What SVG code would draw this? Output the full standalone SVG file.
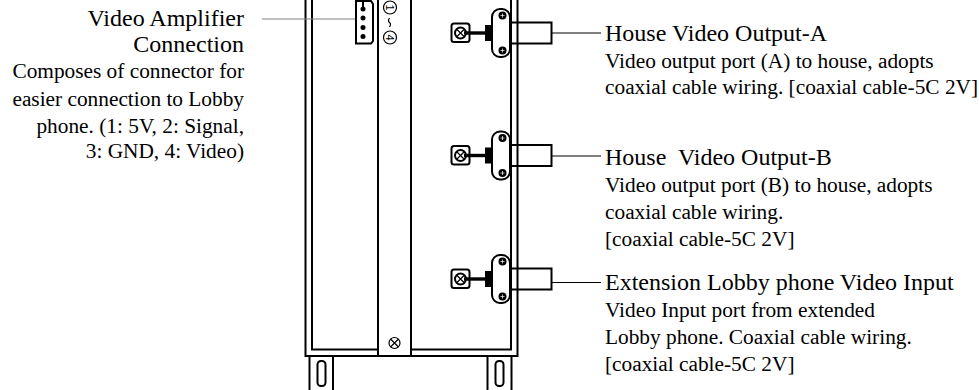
<svg xmlns="http://www.w3.org/2000/svg" width="979" height="390" viewBox="0 0 979 390">
<style>
.l{fill:none;stroke:#000;stroke-width:2}
.w{fill:#fff;stroke:#000;stroke-width:2}
.t{font-family:"Liberation Serif","Times New Roman",serif;font-size:24px;fill:#000}
.s{font-family:"Liberation Serif","Times New Roman",serif;font-size:21.33px;fill:#000}
.d{font-family:"Liberation Sans",Arial,sans-serif;font-size:11px;text-anchor:middle;fill:#000}
.e{text-anchor:end}
.c{fill:none;stroke:#000;stroke-width:1.200}
</style>
<defs>
<g id="term">
<rect x="451.500" y="-9.500" width="18" height="18.500" rx="2.500" class="l"/>
<circle cx="460.500" cy="0" r="5.500" fill="#fff" stroke="#000" stroke-width="2"/>
<path d="M457 -3.500L464 3.500M464 -3.500L457 3.500" stroke="#000" stroke-width="1.200"/>
<rect x="464" y="-1.700" width="22" height="3.400" fill="#000"/>
<rect x="485" y="-8" width="7.500" height="16" fill="#000"/>
<rect x="492" y="-24" width="18" height="48" rx="8" class="w"/>
<circle cx="502.500" cy="-17.500" r="4" fill="#000"/><circle cx="502.500" cy="17.500" r="4" fill="#000"/>
<path d="M500.500 -17.500h4M502.500 -19.500v4M500.500 17.500h4M502.500 15.500v4" stroke="#fff" stroke-width=".7"/>
<path d="M511 -10.500H551.500V10.500H511" class="l"/>
</g>
</defs>
<g id="enclosure">
<path d="M305.500 0V356H517.500V0" class="l"/>
<path d="M312 0V349.500H511V0" class="l"/>
<rect x="378" y="-2" width="33" height="358" class="w"/>
<path d="M309.500 357V390M333 357V390M487.500 357V390M511.500 357V390" class="l"/>
<rect x="317.500" y="361" width="8" height="25" rx="3.500" class="l"/>
<rect x="495.500" y="361" width="8" height="25" rx="3.500" class="l"/>
<circle cx="394.500" cy="343" r="5.500" class="c"/>
<path d="M390.500 339L398.500 347M398.500 339L390.500 347" class="c"/>
</g>
<g id="amp-connector">
<path d="M356 1H371L373 4V41L371 43.500H356Z" class="w"/>
<path d="M363 0V9" stroke="#000" stroke-width="2"/>
<circle cx="363" cy="9" r="2.500"/><circle cx="363" cy="18" r="2.500"/><circle cx="363" cy="27.500" r="2.500"/><circle cx="363" cy="36.500" r="2.500"/>
<circle cx="390" cy="7.500" r="6.500" class="c"/>
<circle cx="390" cy="37.500" r="6.500" class="c"/>
<text class="d" x="0" y="0" transform="translate(386.200 7.500) rotate(90)">1</text>
<path d="M389.500 18q-2 3 0 4.500t0 4.500" class="c"/>
<text class="d" x="0" y="0" transform="translate(386.200 37.500) rotate(90)">4</text>
</g>
<g id="output-a"><use href="#term" y="33"/></g>
<g id="output-b"><use href="#term" y="155.500"/></g>
<g id="ext-input"><use href="#term" y="279"/></g>
<g id="connectors">
<path d="M262 19H355" stroke="#808080" stroke-width="1.200" fill="none"/>
<path d="M552 33H601M552 156H601M552 282.500H601" class="c"/>
</g>
<g id="label-amp">
<text class="t e" x="244" y="26">Video Amplifier</text>
<text class="t e" x="244" y="52">Connection</text>
<text class="s e" x="244" y="78">Composes of connector for</text>
<text class="s e" x="244" y="106">easier connection to Lobby</text>
<text class="s e" x="244" y="133">phone. (1: 5V, 2: Signal,</text>
<text class="s e" x="244" y="158">3: GND, 4: Video)</text>
</g>
<g id="label-a">
<text class="t" x="605" y="41">House Video Output-A</text>
<text class="s" x="605" y="68">Video output port (A) to house, adopts</text>
<text class="s" x="605" y="94">coaxial cable wiring. [coaxial cable-5C 2V]</text>
</g>
<g id="label-b">
<text class="t" x="605" y="165" xml:space="preserve">House  Video Output-B</text>
<text class="s" x="605" y="192">Video output port (B) to house, adopts</text>
<text class="s" x="605" y="219">coaxial cable wiring.</text>
<text class="s" x="605" y="246">[coaxial cable-5C 2V]</text>
</g>
<g id="label-ext">
<text class="t" x="605" y="290">Extension Lobby phone Video Input</text>
<text class="s" x="605" y="317">Video Input port from extended</text>
<text class="s" x="605" y="344">Lobby phone. Coaxial cable wiring.</text>
<text class="s" x="605" y="371">[coaxial cable-5C 2V]</text>
</g>
</svg>
